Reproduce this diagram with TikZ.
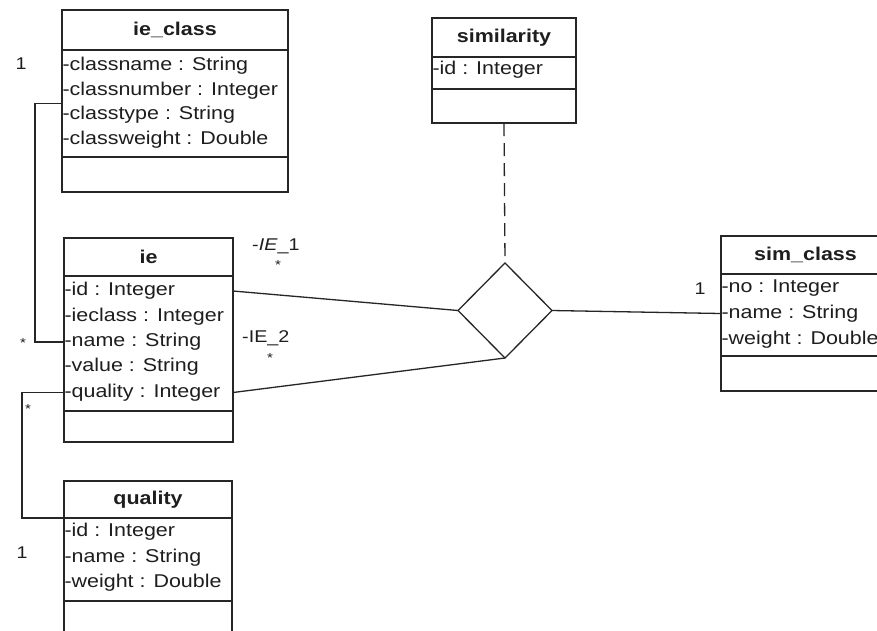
\documentclass[tikz,border=0pt]{standalone}
\usepackage{fontspec}
\setmainfont{Liberation Sans}[FakeStretch=1.16]
\usetikzlibrary{shapes.geometric}
\definecolor{ink}{HTML}{262626}
\definecolor{txt}{HTML}{1E1E1E}
\newcommand\umlcls[8]{%
  \node[part, minimum width={(#3-#2)*1pt}, minimum height={(#5-#4)*1pt}] (#1T) at ({(#2+#3)/2},{(#4+#5)/2}) {\bfseries #8};
  \node[part, minimum width={(#3-#2)*1pt}, minimum height={(#6-#5)*1pt}] (#1A) at ({(#2+#3)/2},{(#5+#6)/2}) {};
  \node[part, minimum width={(#3-#2)*1pt}, minimum height={(#7-#6)*1pt}] (#1O) at ({(#2+#3)/2},{(#6+#7)/2}) {};
}
\tikzset{
  part/.style={draw=ink, line width=1.5pt, rectangle, inner sep=0pt, outer sep=0pt, font=\fontsize{18.5}{20}\selectfont, text=txt},
  attr/.style={anchor=west, inner sep=0pt, outer sep=0pt, font=\fontsize{18.5}{20}\selectfont, text=txt, text height=13pt, text depth=4pt},
  mult/.style={inner sep=0pt, font=\fontsize{17}{18}\selectfont, text=txt},
  star/.style={inner sep=0pt, font=\fontsize{13}{13}\selectfont, text=txt},
  conn/.style={draw=ink, line width=1.3pt},
}
\begin{document}
\begin{tikzpicture}[x=1pt,y=-1pt]
\useasboundingbox (0,0) rectangle (877,630);
\clip (0,0) rectangle (877,630);
\fill[white] (0,0) rectangle (877,630);

% classes
\umlcls{ic}{62}{288}{10}{50}{157}{192}{ie\_class}
\umlcls{ie}{64}{233}{238}{276}{411}{442}{ie}
\umlcls{q}{64}{232}{481}{518}{601}{645}{quality}
\umlcls{sim}{432}{576}{18}{57}{89}{123}{similarity}
\umlcls{sc}{721}{890}{236}{274}{356}{391}{sim\_class}

% attributes
\node[attr] (icname)   at (62.5,66)  {-classname : String};
\node[attr] (icnumber) at (62.5,90.5) {-classnumber : Integer};
\node[attr] (ictype)   at (62.5,115) {-classtype : String};
\node[attr] (icweight) at (62.5,139.5) {-classweight : Double};

\node[attr] (ieid)      at (64.5,291) {-id : Integer};
\node[attr] (ieclass)   at (64.5,317) {-ieclass : Integer};
\node[attr] (iename)    at (64.5,342) {-name : String};
\node[attr] (ievalue)   at (64.5,367) {-value : String};
\node[attr] (iequality) at (64.5,392.5) {-quality : Integer};

\node[attr] (qid)     at (64.5,532) {-id : Integer};
\node[attr] (qname)   at (64.5,557.5) {-name : String};
\node[attr] (qweight) at (64.5,583) {-weight : Double};

\node[attr] (simid) at (432.5,70) {-id : Integer};

\node[attr] (scno)     at (721.5,288) {-no : Integer};
\node[attr] (scname)   at (721.5,313.5) {-name : String};
\node[attr] (scweight) at (721.5,339.5) {-weight : Double};

% association diamond
\node[draw=ink, line width=1.3pt, diamond, shape aspect=1, inner sep=0pt, outer sep=0pt,
      minimum width=94pt, minimum height=95pt] (dia) at (505,310.5) {};

% connectors
\draw[conn] (iename.west) -| ([xshift=-27pt]icA.west) -- (icA.west);
\draw[conn] (iequality.west) -| ([xshift=-42pt]qT.south west) -- (qT.south west);
\draw[conn] (ieA.east |- ieid) -- (dia.west);
\draw[conn] (ieA.east |- iequality) -- (dia.south);
\draw[conn] (dia.east) -- (scA.west |- scname);
\draw[conn, dash pattern=on 13pt off 7pt] (simO.south) -- (dia.north);

% multiplicities and role names
\node[mult] (m1) at (21,64) {1};
\node[star] (m2) at (23,343) {*};
\node[star] (m3) at (28,409) {*};
\node[mult] (m4) at (22,553) {1};
\node[mult] (m5) at (700,289) {1};
\node[mult, anchor=west] (r1) at (252,246) {-\textit{IE}\_1};
\node[star] (r1s) at (278,265) {*};
\node[mult, anchor=west] (r2) at (242,338) {-IE\_2};
\node[star] (r2s) at (270,358) {*};
\end{tikzpicture}
\end{document}
